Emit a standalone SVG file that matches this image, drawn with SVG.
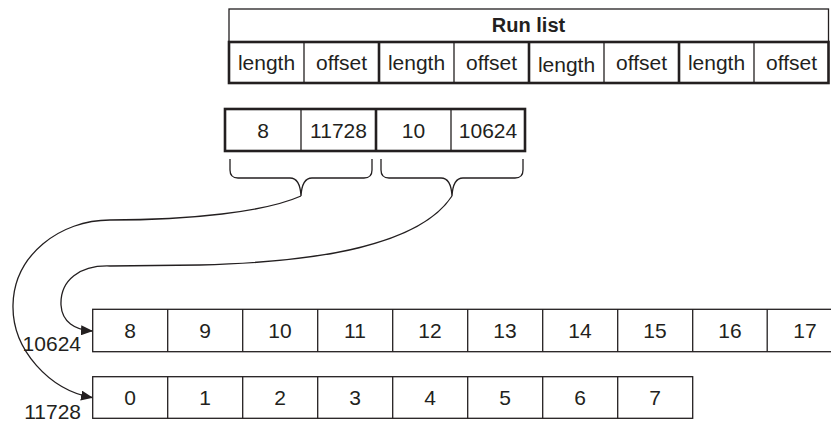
<svg xmlns="http://www.w3.org/2000/svg" width="831" height="423" viewBox="0 0 831 423">
<defs>
<style>
.t{font-family:"Liberation Sans",Arial,sans-serif;font-size:21px;fill:#231f20;text-anchor:middle}
.b{font-weight:bold;font-size:20px}
.l{text-anchor:end}
.thin{fill:none;stroke:#231f20;stroke-width:1.3}
.thick{fill:none;stroke:#231f20;stroke-width:2.6}
.c{fill:none;stroke:#231f20;stroke-width:1.3}
</style>
<marker id="ah" viewBox="0 0 12 10" refX="11" refY="5" markerWidth="12" markerHeight="10" markerUnits="userSpaceOnUse" orient="auto">
<path d="M0,0 L12,5 L0,10 Z" fill="#231f20"/>
</marker>
</defs>
<rect width="831" height="423" fill="#ffffff"/>

<g id="runlist">
<rect class="thin" x="229" y="9" width="599.5" height="33"/>
<text class="t b" x="528.5" y="32">Run list</text>
<rect class="thick" x="229" y="42" width="599.5" height="41"/>
<line class="thin" x1="304" y1="42" x2="304" y2="83"/>
<line class="thick" x1="379" y1="42" x2="379" y2="83"/>
<line class="thin" x1="454" y1="42" x2="454" y2="83"/>
<line class="thick" x1="529" y1="42" x2="529" y2="83"/>
<line class="thin" x1="604" y1="42" x2="604" y2="83"/>
<line class="thick" x1="679" y1="42" x2="679" y2="83"/>
<line class="thin" x1="754" y1="42" x2="754" y2="83"/>
<text class="t" x="266.5" y="69.5">length</text>
<text class="t" x="341.5" y="69.5">offset</text>
<text class="t" x="416.5" y="69.5">length</text>
<text class="t" x="491.5" y="69.5">offset</text>
<text class="t" x="566.5" y="71.5">length</text>
<text class="t" x="641.5" y="69.5">offset</text>
<text class="t" x="716.5" y="69.5">length</text>
<text class="t" x="791.5" y="69.5">offset</text>
</g>

<g id="entries">
<rect class="thick" x="225" y="109" width="300" height="42"/>
<line class="thin" x1="301" y1="109" x2="301" y2="151"/>
<line class="thick" x1="376" y1="109" x2="376" y2="151"/>
<line class="thin" x1="451" y1="109" x2="451" y2="151"/>
<text class="t" x="263" y="137.5">8</text>
<text class="t" x="338.5" y="137.5">11728</text>
<text class="t" x="413.5" y="137.5">10</text>
<text class="t" x="488" y="137.5">10624</text>
</g>

<g id="brace1">
<path class="c" d="M230,159 L230,170 Q230,178 238,178 L290,178 Q300,178 301,196 Q302,178 312,178 L364,178 Q372,178 372,170 L372,159"/>
</g>
<g id="brace2">
<path class="c" d="M381,159 L381,170 Q381,178 389,178 L441,178 Q451,178 452,196 Q453,178 463,178 L515,178 Q523,178 523,170 L523,159"/>
</g>

<g id="clusters10624">
<rect class="thin" x="92.7" y="309.3" width="760" height="42.4"/>
<line class="thin" x1="167.7" y1="309.3" x2="167.7" y2="351.7"/>
<line class="thin" x1="242.7" y1="309.3" x2="242.7" y2="351.7"/>
<line class="thin" x1="317.7" y1="309.3" x2="317.7" y2="351.7"/>
<line class="thin" x1="392.7" y1="309.3" x2="392.7" y2="351.7"/>
<line class="thin" x1="467.7" y1="309.3" x2="467.7" y2="351.7"/>
<line class="thin" x1="542.7" y1="309.3" x2="542.7" y2="351.7"/>
<line class="thin" x1="617.7" y1="309.3" x2="617.7" y2="351.7"/>
<line class="thin" x1="692.7" y1="309.3" x2="692.7" y2="351.7"/>
<line class="thin" x1="767.2" y1="309.3" x2="767.2" y2="351.7"/>
<text class="t" x="130" y="338">8</text>
<text class="t" x="205" y="338">9</text>
<text class="t" x="280" y="338">10</text>
<text class="t" x="355" y="338">11</text>
<text class="t" x="430" y="338">12</text>
<text class="t" x="505" y="338">13</text>
<text class="t" x="580" y="338">14</text>
<text class="t" x="655" y="338">15</text>
<text class="t" x="730" y="338">16</text>
<text class="t" x="805" y="338">17</text>
<text class="t l" x="81" y="351">10624</text>
</g>

<g id="clusters11728">
<rect class="thin" x="92.7" y="376.7" width="600" height="41.6"/>
<line class="thin" x1="167.7" y1="376.7" x2="167.7" y2="418.3"/>
<line class="thin" x1="242.7" y1="376.7" x2="242.7" y2="418.3"/>
<line class="thin" x1="317.7" y1="376.7" x2="317.7" y2="418.3"/>
<line class="thin" x1="392.7" y1="376.7" x2="392.7" y2="418.3"/>
<line class="thin" x1="467.7" y1="376.7" x2="467.7" y2="418.3"/>
<line class="thin" x1="542.7" y1="376.7" x2="542.7" y2="418.3"/>
<line class="thin" x1="617.7" y1="376.7" x2="617.7" y2="418.3"/>
<text class="t" x="130" y="405">0</text>
<text class="t" x="205" y="405">1</text>
<text class="t" x="280" y="405">2</text>
<text class="t" x="355" y="405">3</text>
<text class="t" x="430" y="405">4</text>
<text class="t" x="505" y="405">5</text>
<text class="t" x="580" y="405">6</text>
<text class="t" x="655" y="405">7</text>
<text class="t l" x="81" y="419">11728</text>
</g>

<g id="connectors">
<path class="c" marker-end="url(#ah)" d="M301,196 C265,212 190,220 110,220 C60,220 14,255 13,305 C12,350 50,390 92,397.5"/>
<path class="c" marker-end="url(#ah)" d="M452,196 C420,245 320,262 200,265 L110,266 C80,265 60,280 61,305 C62,322 75,330 92,331"/>
</g>
</svg>
